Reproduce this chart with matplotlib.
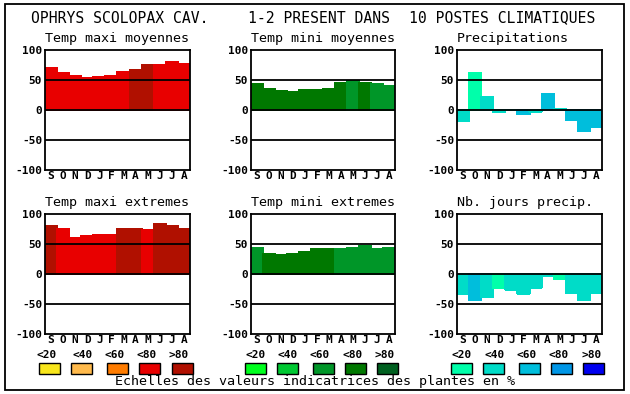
import matplotlib as mpl
mpl.use("agg")
import matplotlib.pyplot as plt
from matplotlib.patches import Rectangle

mpl.rcParams["font.family"] = "DejaVu Sans Mono"

months = ["S", "O", "N", "D", "J", "F", "M", "A", "M", "J", "J", "A"]
classes = ["<20", "<40", "<60", "<80", ">80"]

# colour scales (one per column)
reds = ["#F8E61C", "#FFBA4C", "#FF7C00", "#E80000", "#B01000"]
greens = ["#00FF1E", "#00C832", "#009628", "#007800", "#006020"]
blues = ["#00FFAA", "#00DCC8", "#00BEDC", "#0096E6", "#0000F0"]

tmax_moy = [70, 62, 57, 53, 55, 57, 64, 67, 75, 75, 80, 77]
tmax_moy_cls = [3, 3, 3, 3, 3, 3, 3, 4, 4, 3, 3, 3]
tmin_moy = [44, 35, 31, 30, 34, 34, 35, 45, 49, 45, 44, 40]
tmin_moy_cls = [3, 3, 3, 3, 3, 3, 3, 3, 2, 3, 2, 2]
precip = [-18, 62, 22, -3, 0, -7, -3, 27, 2, -16, -35, -28]
precip_cls = [1, 0, 1, 1, 1, 2, 1, 2, 1, 2, 2, 2]
tmax_ext = [80, 75, 60, 64, 65, 65, 75, 75, 74, 84, 80, 75]
tmax_ext_cls = [4, 3, 3, 3, 3, 3, 4, 4, 3, 4, 4, 4]
tmin_ext = [44, 34, 32, 34, 36, 41, 41, 42, 44, 47, 42, 44]
tmin_ext_cls = [2, 3, 3, 3, 3, 3, 3, 2, 2, 2, 2, 2]
jours = [-34, -44, -38, -23, -26, -33, -23, -4, -8, -31, -44, -31]
jours_cls = [1, 2, 1, 0, 1, 1, 1, 1, 0, 1, 1, 1]

W, H = 630, 394
fig = plt.figure(figsize=(W / 100, H / 100), dpi=100)


def px_axes(x0, y0, x1, y1):
    return fig.add_axes([x0 / W, 1 - y1 / H, (x1 - x0) / W, (y1 - y0) / H])


def panel(x0, y0, x1, title, vals, cls, scale):
    ax = px_axes(x0, y0, x1, y0 + 120)
    cols = [scale[c] for c in cls]
    ax.bar(range(12), vals, width=1.0, color=cols, edgecolor=cols, linewidth=0.8,
           antialiased=False, snap=False, zorder=1)
    for y in (-50, 0, 50):
        ax.axhline(y, color="black", lw=1.3, zorder=2)
    ax.set_xlim(-0.5, 11.5)
    ax.set_ylim(-100, 100)
    ax.set_yticks([-100, -50, 0, 50, 100])
    ax.set_yticklabels(["-100", "-50", "0", "50", "100"], fontsize=8, fontweight="bold")
    ax.set_xticks(range(12))
    ax.set_xticklabels(months, fontsize=8, fontweight="bold")
    ax.tick_params(axis="x", length=0, pad=1)
    ax.tick_params(axis="y", length=0, pad=2)
    for s in ax.spines.values():
        s.set_linewidth(1.3)
        s.set_zorder(3)
    ax.set_title(title, fontsize=9.6, pad=6, loc="left")
    return ax


panel(45, 50, 190, "Temp maxi moyennes", tmax_moy, tmax_moy_cls, reds)
panel(251, 50, 395, "Temp mini moyennes", tmin_moy, tmin_moy_cls, greens)
panel(457, 50, 602, "Precipitations", precip, precip_cls, blues)
panel(45, 214, 190, "Temp maxi extremes", tmax_ext, tmax_ext_cls, reds)
panel(251, 214, 395, "Temp mini extremes", tmin_ext, tmin_ext_cls, greens)
panel(457, 214, 602, "Nb. jours precip.", jours, jours_cls, blues)

# overlay axes in pixel coords for frame, header, legends
ov = fig.add_axes([0, 0, 1, 1])
ov.set_xlim(0, W)
ov.set_ylim(H, 0)
ov.axis("off")
ov.add_patch(Rectangle((5, 4), 619, 386, fill=False, lw=1.3, ec="black"))

ov.text(31, 18, "OPHRYS SCOLOPAX CAV.", fontsize=10.6, va="center", ha="left")
ov.text(248, 18, "1-2 PRESENT DANS", fontsize=10.6, va="center", ha="left")
ov.text(409, 18, "10 POSTES CLIMATIQUES", fontsize=10.6, va="center", ha="left")

legend_boxes = [
    ([39, 71, 107, 139, 172], [47, 83, 115, 147, 179], reds),
    ([245, 277, 313, 345, 377], [256, 288, 320, 353, 385], greens),
    ([451, 483, 519, 551, 583], [462, 495, 527, 559, 592], blues),
]
for xs, lx, scale in legend_boxes:
    for x, tx, col, lab in zip(xs, lx, scale, classes):
        ov.add_patch(Rectangle((x, 363), 21, 11, fc=col, ec="black", lw=1.0))
        ov.text(tx, 355, lab, fontsize=8, fontweight="bold", ha="center", va="center")

ov.text(315, 382, "Echelles des valeurs indicatrices des plantes en %",
        fontsize=9.6, ha="center", va="center")

fig.savefig("out.png", dpi=100, facecolor="white")
